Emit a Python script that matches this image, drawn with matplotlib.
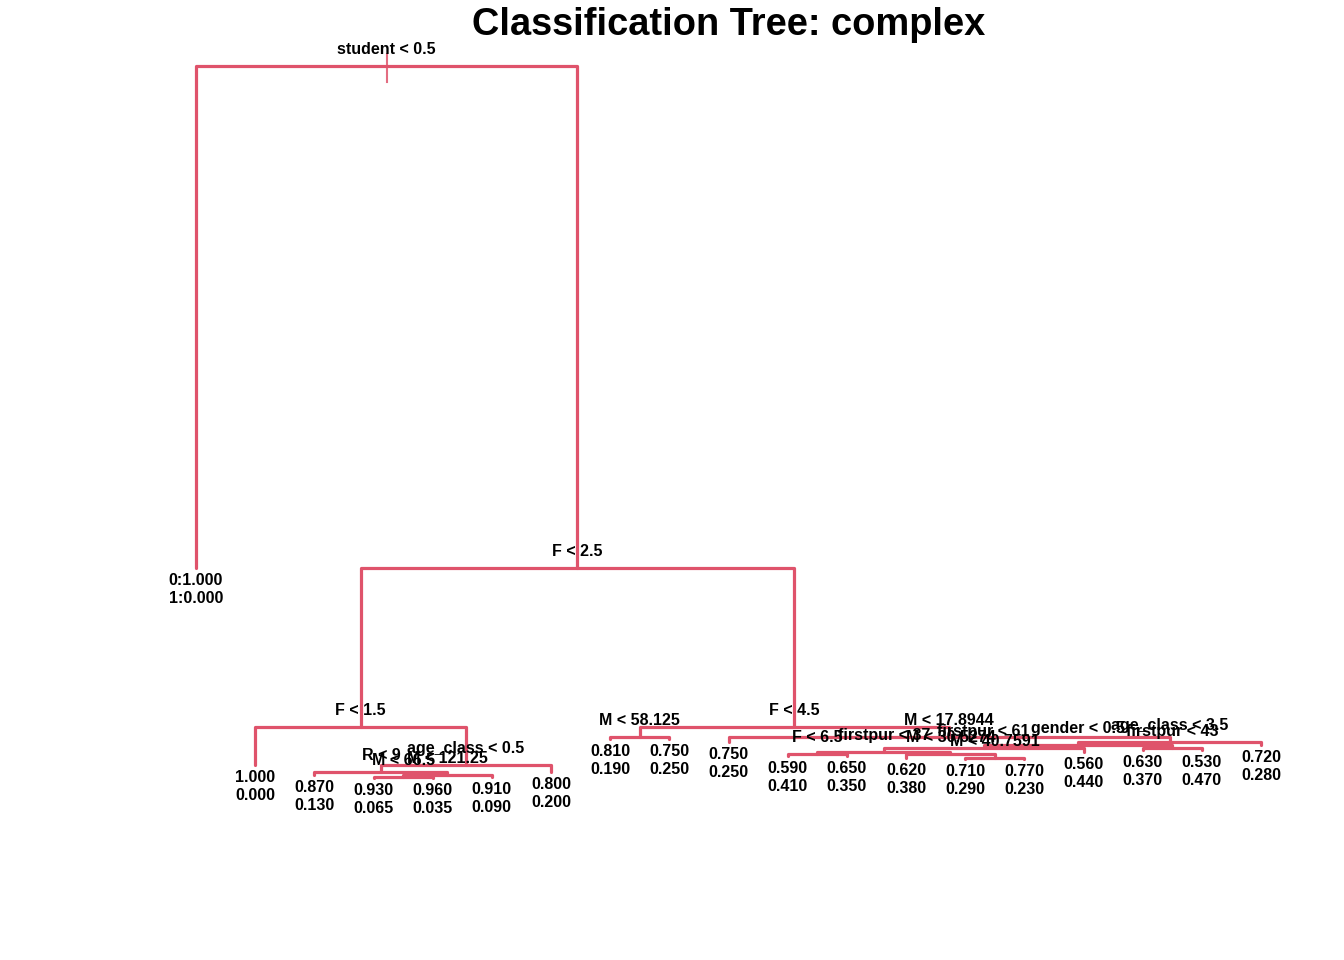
import matplotlib
matplotlib.use("Agg")
import matplotlib.pyplot as plt

# ---- tree data (R "tree" node numbering: children of n are 2n and 2n+1) ----
node_ids = [1, 2, 3, 6, 7, 12, 13, 26, 27, 52, 53, 106, 107, 212, 213,
             14, 15, 28, 29, 30, 31, 62, 63, 124, 125, 248, 249, 250, 251,
             496, 497, 992, 993, 994, 995, 1990, 1991]
# plotted height of each node (cumulative deviance scale)
node_height = [734, 232, 232, 73, 73, 35, 35, 28, 28, 25, 25, 23, 23, 22, 22,
               63, 63, 61, 61, 58, 58, 55, 55, 52, 52, 48, 48, 50, 50,
               46, 46, 44.5, 44.5, 42, 42, 41, 41]
split_labels = {
    1: "student < 0.5", 3: "F < 2.5", 6: "F < 1.5", 7: "F < 4.5",
    13: "age_class < 0.5", 26: "R < 9", 53: "M < 121.25", 106: "M < 66.5",
    14: "M < 58.125", 15: "M < 17.8944", 31: "age_class < 3.5",
    62: "gender < 0.5", 124: "firstpur < 61", 125: "firstpur < 43",
    248: "firstpur < 37", 496: "F < 6.5", 497: "M < 30.5274",
    995: "M < 40.7591",
}
leaf_ids = [2, 12, 52, 212, 213, 107, 27, 28, 29, 30, 992, 993, 994,
            1990, 1991, 249, 250, 251, 63]
prob_0 = [1.000, 1.000, 0.870, 0.930, 0.960, 0.910, 0.800, 0.810, 0.750,
          0.750, 0.590, 0.650, 0.620, 0.710, 0.770, 0.560, 0.630, 0.530, 0.720]
prob_1 = [0.000, 0.000, 0.130, 0.065, 0.035, 0.090, 0.200, 0.190, 0.250,
          0.250, 0.410, 0.350, 0.380, 0.290, 0.230, 0.440, 0.370, 0.470, 0.280]
title = "Classification Tree: complex"

COL = "#DF536B"
FONT = "Liberation Sans"

ymap = dict(zip(node_ids, node_height))

# x positions: leaves at 1..n in order, internal nodes at mid of children
xmap = {}
for i, lid in enumerate(leaf_ids):
    xmap[lid] = i + 1.0


def getx(n):
    if n in xmap:
        return xmap[n]
    xmap[n] = (getx(2 * n) + getx(2 * n + 1)) / 2.0
    return xmap[n]


getx(1)

fig = plt.figure(figsize=(13.44, 9.6), dpi=100)
ax = fig.add_axes([0, 0, 1, 1])
ax.set_xlim(-2.3125, 20.402)
ax.set_ylim(-160, 800)
ax.axis("off")

lw = 2.3
for n in sorted(split_labels):
    l, r = 2 * n, 2 * n + 1
    ax.plot([xmap[l], xmap[l], xmap[r], xmap[r]],
            [ymap[l], ymap[n], ymap[n], ymap[r]],
            color=COL, lw=lw, solid_capstyle="round", solid_joinstyle="round")
# small stub at the root
ax.plot([xmap[1], xmap[1]], [ymap[1] + 12, ymap[1] - 16], color=COL, lw=1.5,
        alpha=0.85)

for n, lab in split_labels.items():
    ax.annotate(lab, (xmap[n], ymap[n]), xytext=(0, 12.2),
                textcoords="offset points", ha="center", va="center",
                fontsize=11.5, fontweight="bold", family=FONT)

for k, lid in enumerate(leaf_ids):
    if k == 0:
        txt = "0:%.3f\n1:%.3f" % (prob_0[k], prob_1[k])
    else:
        txt = "%.3f\n%.3f" % (prob_0[k], prob_1[k])
    ax.annotate(txt, (xmap[lid], ymap[lid]), xytext=(0, -15.6),
                textcoords="offset points", ha="center", va="center",
                fontsize=11.5, fontweight="bold", family=FONT,
                linespacing=1.27)

fig.text(729 / 1344, 1 - 35 / 960, title, ha="center", va="baseline",
         fontsize=27.4, fontweight="bold", family=FONT)

fig.savefig("out.png", dpi=100)
